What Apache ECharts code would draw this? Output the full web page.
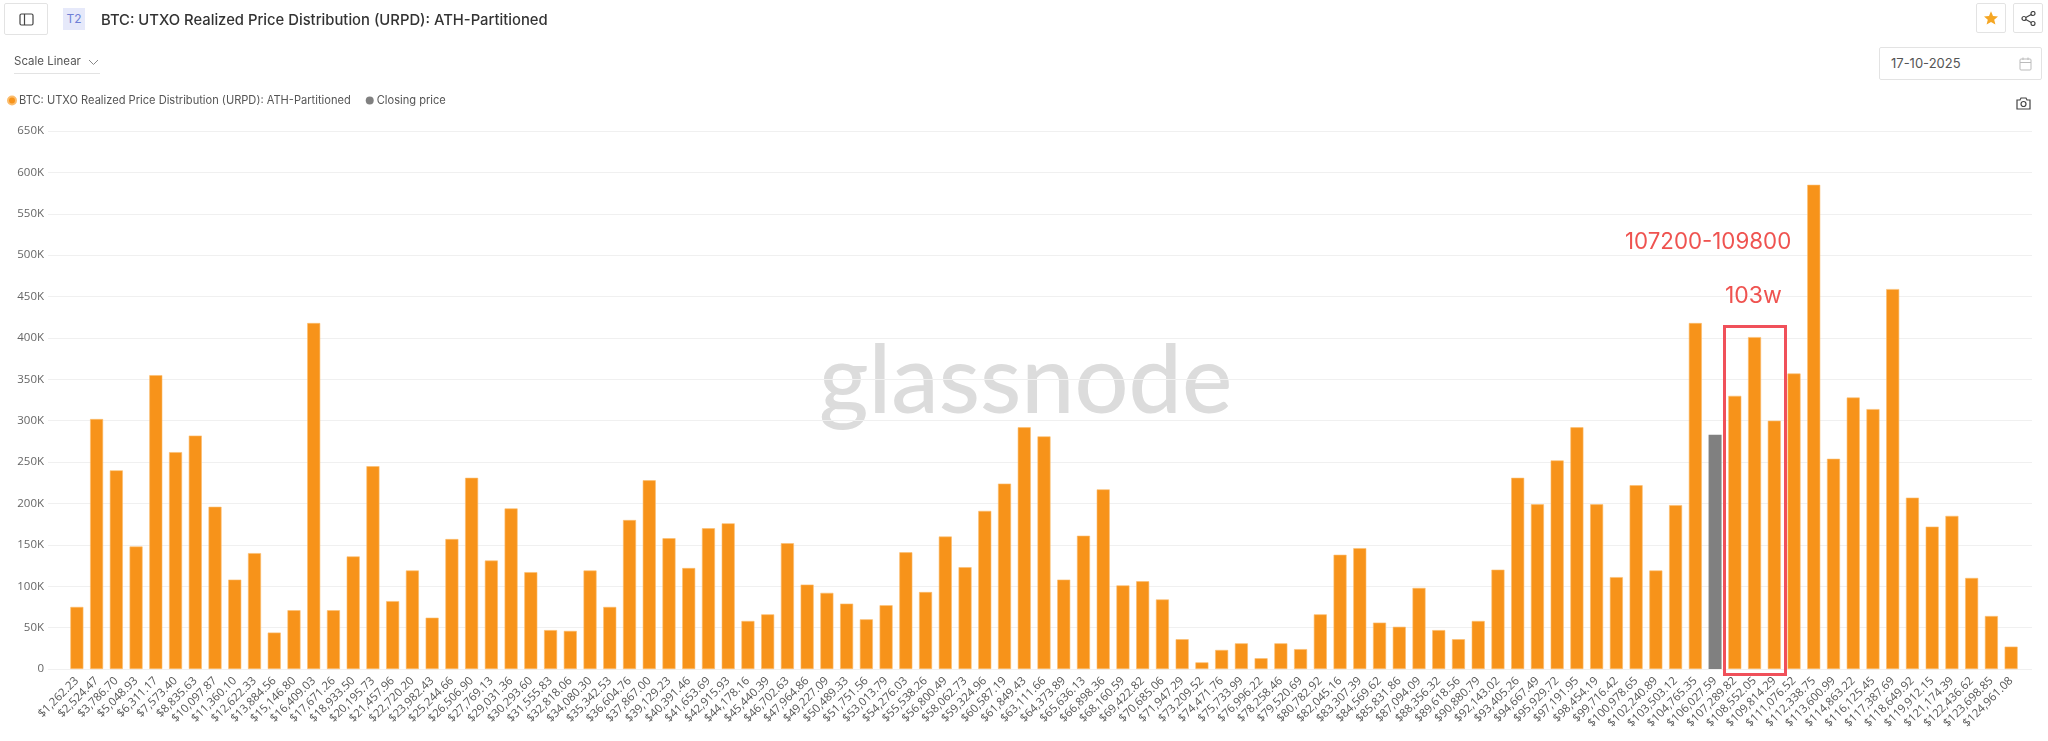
<!DOCTYPE html>
<html lang="en">
<head>
<meta charset="UTF-8">
<title>URPD</title>
<script src="https://cdn.jsdelivr.net/npm/echarts@6/dist/echarts.min.js"></script>
<style>
  html, body { margin: 0; padding: 0; background: #fff; font-family: Inter, sans-serif; }
  #main { position: absolute; left: 0; top: 0; width: 2048px; height: 741px; }
  .box { position: absolute; box-sizing: border-box; border: 1px solid #e3e3e3; border-radius: 2px; background: #fff; z-index: 2; }
  .box svg { position: absolute; }
  .ui { position: absolute; z-index: 2; color: #555; }
</style>
</head>
<body>
<div id="main"></div>

<!-- page furniture around the chart -->
<div class="box" style="left:4px;top:3px;width:44px;height:32px;">
  <svg style="left:14px;top:8px" width="15" height="15" viewBox="0 0 15 15" fill="none" stroke="#444" stroke-width="1.2"><rect x="1" y="2" width="13" height="11" rx="1.5"/><line x1="5.5" y1="2" x2="5.5" y2="13"/></svg>
</div>
<div class="ui" style="left:63px;top:8px;width:22px;height:22px;background:#e6e9fa;color:#6f7fd6;font-size:12px;line-height:22px;text-align:center;">T2</div>
<div class="ui" style="left:14px;top:54px;font-size:11.5px;padding-bottom:5px;border-bottom:1px solid #e3e3e3;width:86px;">Scale Linear
  <svg style="position:absolute;left:74px;top:5px" width="11" height="7" viewBox="0 0 11 7" fill="none" stroke="#888"><path d="M1 1l4.500 4.500L10 1"/></svg>
</div>
<div class="box" style="left:1976px;top:3px;width:30px;height:30px;">
  <svg style="left:6px;top:6px" width="16" height="16" viewBox="0 0 24 24" fill="#f5a623"><path d="M12 2l3 7 7.500.6-5.700 4.900 1.800 7.300L12 18l-6.600 3.800 1.800-7.300L1.500 9.600 9 9z"/></svg>
</div>
<div class="box" style="left:2013px;top:3px;width:30px;height:30px;">
  <svg style="left:7px;top:7px" width="15" height="15" viewBox="0 0 15 15" fill="none" stroke="#444" stroke-width="1.200"><circle cx="3" cy="7.500" r="2"/><circle cx="12" cy="2.500" r="2"/><circle cx="12" cy="12.500" r="2"/><path d="M4.800 6.500l5.400-3M4.800 8.500l5.400 3"/></svg>
</div>
<div class="box" style="left:1879px;top:47px;width:163px;height:33px;">
  <span style="position:absolute;left:11px;top:7px;font-size:13px;color:#555;">17-10-2025</span>
  <svg style="left:139px;top:9px" width="13" height="14" viewBox="0 0 13 14" fill="none" stroke="#bbb"><rect x="1" y="2" width="11" height="11" rx="1"/><line x1="1" y1="5.500" x2="12" y2="5.500"/><line x1="4" y1="0.500" x2="4" y2="3"/><line x1="9" y1="0.500" x2="9" y2="3"/></svg>
</div>
<svg class="ui" style="left:2016px;top:97px" width="15" height="13" viewBox="0 0 15 13" fill="none" stroke="#444" stroke-width="1.200"><path d="M1 3h3l1-2h5l1 2h3v9H1z"/><circle cx="7.500" cy="7" r="2.500"/></svg>

<script type="text/javascript">
  // bin upper edges, as printed on the axis
  var priceLabels = [
    '$1,262.23','$2,524.47','$3,786.70','$5,048.93','$6,311.17','$7,573.40','$8,835.63','$10,097.87','$11,360.10','$12,622.33',
    '$13,884.56','$15,146.80','$16,409.03','$17,671.26','$18,933.50','$20,195.73','$21,457.96','$22,720.20','$23,982.43','$25,244.66',
    '$26,506.90','$27,769.13','$29,031.36','$30,293.60','$31,555.83','$32,818.06','$34,080.30','$35,342.53','$36,604.76','$37,867.00',
    '$39,129.23','$40,391.46','$41,653.69','$42,915.93','$44,178.16','$45,440.39','$46,702.63','$47,964.86','$49,227.09','$50,489.33',
    '$51,751.56','$53,013.79','$54,276.03','$55,538.26','$56,800.49','$58,062.73','$59,324.96','$60,587.19','$61,849.43','$63,111.66',
    '$64,373.89','$65,636.13','$66,898.36','$68,160.59','$69,422.82','$70,685.06','$71,947.29','$73,209.52','$74,471.76','$75,733.99',
    '$76,996.22','$78,258.46','$79,520.69','$80,782.92','$82,045.16','$83,307.39','$84,569.62','$85,831.86','$87,094.09','$88,356.32',
    '$89,618.56','$90,880.79','$92,143.02','$93,405.26','$94,667.49','$95,929.72','$97,191.95','$98,454.19','$99,716.42','$100,978.65',
    '$102,240.89','$103,503.12','$104,765.35','$106,027.59','$107,289.82','$108,552.05','$109,814.29','$111,076.52','$112,338.75','$113,600.99',
    '$114,863.22','$116,125.45','$117,387.69','$118,649.92','$119,912.15','$121,174.39','$122,436.62','$123,698.85','$124,961.08'
  ];

  // BTC per bin, in thousands
  var urpdValues = [
    75,302,240,148,355,262,282,196,108,140,
    44,71,418,71,136,245,82,119,62,157,
    231,131,194,117,47,46,119,75,180,228,
    158,122,170,176,58,66,152,102,92,79,
    60,77,141,93,160,123,191,224,292,281,
    108,161,217,101,106,84,36,8,23,31,
    13,31,24,66,138,146,56,51,98,47,
    36,58,120,231,199,252,292,199,111,222,
    119,198,418,283,330,401,300,357,585,254,
    328,314,459,207,172,185,110,64,27
  ];

  var closingLabel = '$106,027.59';
  var seriesUrpd = 'BTC: UTXO Realized Price Distribution (URPD): ATH-Partitioned';
  var seriesClosing = 'Closing price';

  var myChart = echarts.init(document.getElementById('main'));

  var option = {
    animation: false,
    title: {
      text: seriesUrpd,
      left: 96, top: 8,
      textStyle: { fontFamily: 'Inter', fontSize: 14.8, fontWeight: 500, color: '#333' }
    },
    legend: {
      left: 2, top: 90,
      icon: 'circle',
      itemWidth: 8, itemHeight: 8, itemGap: 15,
      textStyle: { fontFamily: 'Inter', fontSize: 11.1, color: '#555', padding: [0, 0, 0, -2] },
      data: [seriesUrpd, seriesClosing]
    },
    // first grid only carries the y axis and its long gridlines, second one the bars
    grid: [
      { left: 48, right: 16, top: 131, bottom: 72 },
      { left: 67, width: 1954, top: 131, bottom: 72 }
    ],
    xAxis: [
      { gridIndex: 0, type: 'category', show: false, data: priceLabels },
      {
        gridIndex: 1, type: 'category', data: priceLabels,
        axisLine: { show: false },
        axisTick: { show: false },
        axisLabel: { interval: 0, rotate: 45, margin: 10, fontFamily: 'Open Sans', fontSize: 11.5, color: '#555' }
      }
    ],
    yAxis: [
      {
        gridIndex: 0, type: 'value', min: 0, max: 650, interval: 50,
        axisLine: { show: false }, axisTick: { show: false },
        axisLabel: {
          margin: 4, fontFamily: 'Open Sans', fontSize: 11.5, color: '#666',
          formatter: function (v) { return v === 0 ? '0' : v + 'K'; }
        },
        splitLine: { lineStyle: { color: '#f0f0f0', width: 1 } }
      },
      { gridIndex: 1, type: 'value', min: 0, max: 650, interval: 50, show: false, splitLine: { show: false } }
    ],
    series: [
      {
        name: seriesUrpd, type: 'bar', xAxisIndex: 1, yAxisIndex: 1,
        stack: 'bins', barWidth: 13,
        itemStyle: { color: '#f7931a', borderColor: '#fbbd6e', borderWidth: 0.6 },
        data: urpdValues.map(function (v, i) { return priceLabels[i] === closingLabel ? null : v; })
      },
      {
        name: seriesClosing, type: 'bar', xAxisIndex: 1, yAxisIndex: 1,
        stack: 'bins', barWidth: 13,
        itemStyle: { color: '#808080' },
        data: urpdValues.map(function (v, i) { return priceLabels[i] === closingLabel ? v : null; })
      }
    ],
    graphic: [
      {
        type: 'text', left: 819, top: 335, z: 0, silent: true,
        style: { text: 'glassnode', fontFamily: 'Lato', fontSize: 95, fontWeight: 500, fill: '#dcdcdc' }
      },
      {
        type: 'text', left: 1625, top: 231, z: 10,
        style: { text: '107200-109800', fontFamily: 'Inter', fontSize: 22.3, fill: '#ef5350' }
      },
      {
        type: 'text', left: 1725, top: 285, z: 10,
        style: { text: '103w', fontFamily: 'Inter', fontSize: 23, fill: '#ef5350' }
      },
      {
        type: 'rect', left: 1722, top: 324, z: 10,
        shape: { width: 61, height: 348 },
        style: { fill: 'none', stroke: '#f0505a', lineWidth: 3 }
      }
    ]
  };

  myChart.setOption(option);
</script>
</body>
</html>
